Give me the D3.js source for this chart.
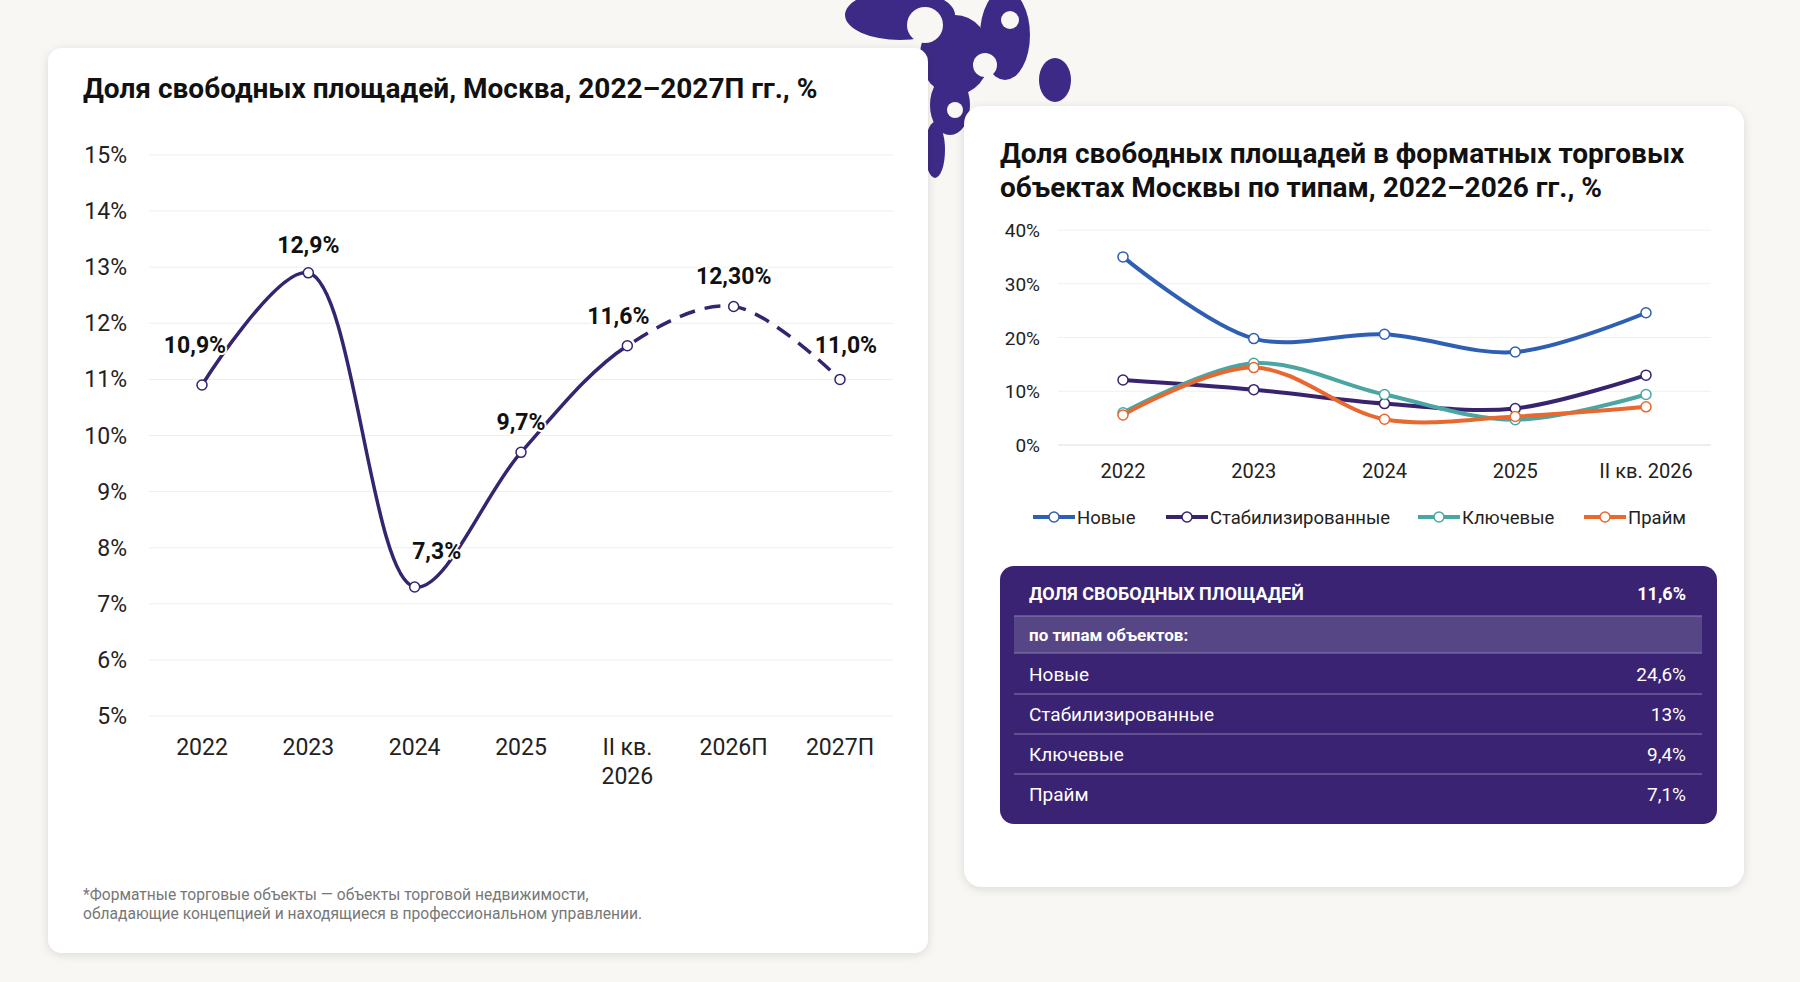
<!DOCTYPE html>
<html><head><meta charset="utf-8">
<script src="https://cdn.jsdelivr.net/npm/d3@7"></script>
<style>
body{margin:0;background:#f8f7f4;font-family:Roboto,"Noto Sans",sans-serif;}
</style></head><body>
<svg id="c" width="1800" height="982"></svg>
<script>
// data
var years = ["2022", "2023", "2024", "2025", "II кв.\n2026", "2026П", "2027П"];
var vacancy = [10.9, 12.9, 7.3, 9.7, 11.6, 12.3, 11.0];
var vacancyLabels = ["10,9%", "12,9%", "7,3%", "9,7%", "11,6%", "12,30%", "11,0%"];
var leftTicks = [5, 6, 7, 8, 9, 10, 11, 12, 13, 14, 15];

var typeYears = ["2022", "2023", "2024", "2025", "II кв. 2026"];
var seriesNames = ["Новые", "Стабилизированные", "Ключевые", "Прайм"];
var seriesColors = ["#2f5fb3", "#38236e", "#4ba6a1", "#e8682f"];
var newVals = [35, 19.8, 20.6, 17.3, 24.6];
var stabVals = [12.1, 10.3, 7.7, 6.8, 13];
var keyVals = [6, 15.2, 9.4, 4.7, 9.4];
var primeVals = [5.6, 14.4, 4.8, 5.3, 7.1];
var rightTicks = [0, 10, 20, 30, 40];

var tableRows = [["Новые", "24,6%"], ["Стабилизированные", "13%"], ["Ключевые", "9,4%"], ["Прайм", "7,1%"]];

var svg = d3.select("#c");
var defs = svg.append("defs");
var f = defs.append("filter").attr("id", "sh").attr("x", "-10%").attr("y", "-10%").attr("width", "120%").attr("height", "120%");
f.append("feDropShadow").attr("dx", 0).attr("dy", 2).attr("stdDeviation", 5).attr("flood-color", "#000").attr("flood-opacity", 0.12);

// decorative ornament
var orn = svg.append("g").attr("fill", "#3d2a86");
[[900, 15, 55, 25], [955, 55, 35, 40], [1005, 35, 25, 45], [950, 105, 20, 30], [1055, 80, 16, 22], [935, 150, 10, 28]].forEach(function(e) {
    orn.append("ellipse").attr("cx", e[0]).attr("cy", e[1]).attr("rx", e[2]).attr("ry", e[3]);
});
[[925, 25, 18], [985, 65, 12], [1010, 20, 9], [955, 110, 8]].forEach(function(e) {
    orn.append("circle").attr("cx", e[0]).attr("cy", e[1]).attr("r", e[2]).attr("fill", "#f8f7f4");
});

// cards
svg.append("rect").attr("x", 48).attr("y", 48).attr("width", 880).attr("height", 905).attr("rx", 14).attr("fill", "#fff").attr("filter", "url(#sh)");
svg.append("rect").attr("x", 964).attr("y", 106).attr("width", 780).attr("height", 781).attr("rx", 18).attr("fill", "#fff").attr("filter", "url(#sh)");

// ---- left chart
svg.append("text").attr("x", 83).attr("y", 98).attr("font-size", 28).attr("font-weight", 700).attr("fill", "#111")
    .text("Доля свободных площадей, Москва, 2022–2027П гг., %");

var x = d3.scalePoint().domain(d3.range(years.length)).range([202, 840]);
var y = d3.scaleLinear().domain([5, 15]).range([716, 155]);

var gl = svg.append("g");
leftTicks.forEach(function(t) {
    gl.append("line").attr("x1", 149).attr("x2", 893).attr("y1", y(t)).attr("y2", y(t)).attr("stroke", "#eeeeee");
    gl.append("text").attr("x", 127).attr("y", y(t) + 8).attr("text-anchor", "end").attr("font-size", 23).attr("fill", "#222").text(t + "%");
});
years.forEach(function(c, i) {
    c.split("\n").forEach(function(s, k) {
        gl.append("text").attr("x", x(i)).attr("y", 755 + k * 29).attr("text-anchor", "middle").attr("font-size", 23).attr("fill", "#222").text(s);
    });
});

var line = d3.line().x(function(d, i) { return x(i); }).y(function(d) { return y(d); }).curve(d3.curveCatmullRom.alpha(0.5));
defs.append("clipPath").attr("id", "cs").append("rect").attr("x", 0).attr("y", 0).attr("width", x(4)).attr("height", 982);
defs.append("clipPath").attr("id", "cd").append("rect").attr("x", x(4)).attr("y", 0).attr("width", 900).attr("height", 982);
gl.append("path").attr("d", line(vacancy)).attr("fill", "none").attr("stroke", "#35246f").attr("stroke-width", 3.5).attr("clip-path", "url(#cs)");
gl.append("path").attr("d", line(vacancy)).attr("fill", "none").attr("stroke", "#35246f").attr("stroke-width", 3.5).attr("stroke-dasharray", "16,10").attr("clip-path", "url(#cd)");
vacancy.forEach(function(v, i) {
    gl.append("circle").attr("cx", x(i)).attr("cy", y(v)).attr("r", 5).attr("fill", "#fff").attr("stroke", "#35246f").attr("stroke-width", 1.5);
});
var off = [[-7, -32], [0, -20], [22, -28], [0, -22], [-9, -22], [0, -22], [6, -26]];
vacancy.forEach(function(v, i) {
    gl.append("text").attr("x", x(i) + off[i][0]).attr("y", y(v) + off[i][1]).attr("text-anchor", "middle")
        .attr("font-size", 23).attr("font-weight", 700).attr("fill", "#111").attr("stroke", "#fff").attr("stroke-width", 4).attr("paint-order", "stroke").text(vacancyLabels[i]);
});
gl.append("text").attr("x", 83).attr("y", 900).attr("font-size", 15.6).attr("fill", "#777").text("*Форматные торговые объекты — объекты торговой недвижимости,");
gl.append("text").attr("x", 83).attr("y", 919).attr("font-size", 15.6).attr("fill", "#777").text("обладающие концепцией и находящиеся в профессиональном управлении.");

// ---- right chart
svg.append("text").attr("x", 1000).attr("y", 163).attr("font-size", 28).attr("font-weight", 700).attr("fill", "#111").text("Доля свободных площадей в форматных торговых");
svg.append("text").attr("x", 1000).attr("y", 197).attr("font-size", 28).attr("font-weight", 700).attr("fill", "#111").text("объектах Москвы по типам, 2022–2026 гг., %");

var x2 = d3.scalePoint().domain(d3.range(typeYears.length)).range([1123, 1646]);
var y2 = d3.scaleLinear().domain([0, 40]).range([445, 230]);
var gr = svg.append("g");
rightTicks.forEach(function(t) {
    gr.append("line").attr("x1", 1058).attr("x2", 1711).attr("y1", y2(t)).attr("y2", y2(t)).attr("stroke", t === 0 ? "#dddddd" : "#f0f0f0");
    gr.append("text").attr("x", 1040).attr("y", y2(t) + 7).attr("text-anchor", "end").attr("font-size", 19).attr("fill", "#222").text(t + "%");
});
typeYears.forEach(function(c, i) {
    gr.append("text").attr("x", x2(i)).attr("y", 478).attr("text-anchor", "middle").attr("font-size", 20).attr("fill", "#222").text(c);
});
var line2 = d3.line().x(function(d, i) { return x2(i); }).y(function(d) { return y2(d); }).curve(d3.curveCatmullRom.alpha(0.5));
var allSeries = [newVals, stabVals, keyVals, primeVals];
var order = [0, 1, 2, 3];
order.forEach(function(s) {
    gr.append("path").attr("d", line2(allSeries[s])).attr("fill", "none").attr("stroke", seriesColors[s]).attr("stroke-width", 4);
});
order.forEach(function(s) {
    allSeries[s].forEach(function(v, i) {
        gr.append("circle").attr("cx", x2(i)).attr("cy", y2(v)).attr("r", 5).attr("fill", "#fff").attr("stroke", seriesColors[s]).attr("stroke-width", 1.5);
    });
});
var legX = [1033, 1166, 1418, 1584];
seriesNames.forEach(function(n, i) {
    var g = gr.append("g").attr("transform", "translate(" + legX[i] + ",517)");
    g.append("line").attr("x1", 0).attr("x2", 42).attr("stroke", seriesColors[i]).attr("stroke-width", 4);
    g.append("circle").attr("cx", 21).attr("r", 5).attr("fill", "#fff").attr("stroke", seriesColors[i]).attr("stroke-width", 1.5);
    g.append("text").attr("x", 44).attr("y", 7).attr("font-size", 18.5).attr("fill", "#222").text(n);
});

// ---- table
var gt = svg.append("g");
gt.append("rect").attr("x", 1000).attr("y", 566).attr("width", 717).attr("height", 258).attr("rx", 14).attr("fill", "#3a2373");
gt.append("rect").attr("x", 1014).attr("y", 616).attr("width", 688).attr("height", 37).attr("fill", "#574685");
gt.append("text").attr("x", 1029).attr("y", 600).attr("font-size", 18).attr("font-weight", 700).attr("fill", "#fff").text("ДОЛЯ СВОБОДНЫХ ПЛОЩАДЕЙ");
gt.append("text").attr("x", 1686).attr("y", 600).attr("text-anchor", "end").attr("font-size", 18).attr("font-weight", 700).attr("fill", "#fff").text("11,6%");
gt.append("text").attr("x", 1029).attr("y", 641).attr("font-size", 17).attr("font-weight", 700).attr("fill", "#fff").text("по типам объектов:");
[616, 653, 694, 734, 774].forEach(function(yy) {
    gt.append("line").attr("x1", 1014).attr("x2", 1702).attr("y1", yy).attr("y2", yy).attr("stroke", "#8b7fb0").attr("stroke-width", 1);
});
tableRows.forEach(function(r, i) {
    var yy = 681 + i * 40;
    gt.append("text").attr("x", 1029).attr("y", yy).attr("font-size", 19).attr("fill", "#fff").text(r[0]);
    gt.append("text").attr("x", 1686).attr("y", yy).attr("text-anchor", "end").attr("font-size", 19).attr("fill", "#fff").text(r[1]);
});
</script></body></html>
